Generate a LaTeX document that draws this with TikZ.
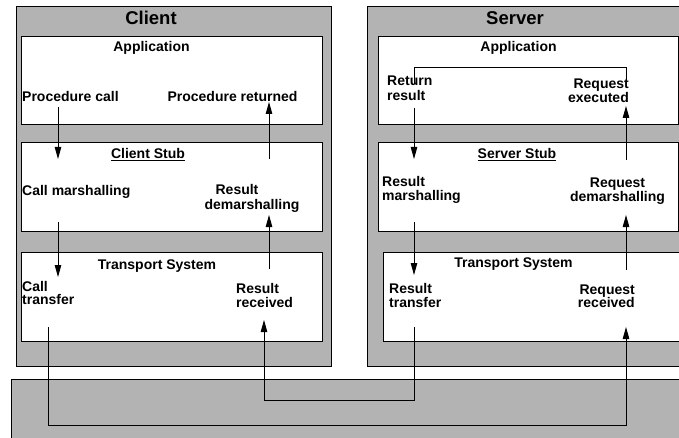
\documentclass[tikz,border=0pt]{standalone}
\usepackage{fontspec}
\setmainfont{Liberation Sans}
\usetikzlibrary{arrows.meta}
\definecolor{panel}{RGB}{179,179,179}
\begin{document}
\begin{tikzpicture}[x=1pt,y=-1pt,
  box/.style={draw=black,line width=1pt,fill=white},
  shell/.style={draw=black,line width=1pt,fill=panel},
  lbl/.style={font=\fontsize{14}{15}\selectfont\bfseries,inner sep=0pt},
  ttl/.style={font=\fontsize{18.5}{20}\selectfont\bfseries,inner sep=0pt},
  flow/.style={line width=0.9pt,-{Triangle[length=12pt,width=6.5pt]}},
  wire/.style={line width=0.9pt}]
\clip (0,0) rectangle (679,438);
\fill[white] (0,0) rectangle (679,438);

% ---------- client side ----------
\draw[shell] (16,7) rectangle (331,366);
\draw[box] (21,37) rectangle (322,125);
\draw[box] (21,143) rectangle (322,231);
\draw[box] (21,252) rectangle (322,341);

% ---------- server side ----------
\draw[shell] (367,7) rectangle (700,366);
\draw[box] (378,37) rectangle (678,125);
\draw[box] (378,143) rectangle (678,231);
\draw[box] (383,252) rectangle (700,341);

% ---------- network ----------
\draw[shell] (11,379) rectangle (700,460);

% ---------- titles ----------
\node[ttl,anchor=base] (ctitle) at (151,25) {Client};
\node[ttl,anchor=base] (stitle) at (515,25) {Server};

% ---------- client labels ----------
\node[lbl,anchor=base] (capp) at (151.5,52) {Application};
\node[lbl,anchor=base west] (pcall) at (22,102) {Procedure call};
\node[lbl,anchor=base] (pret) at (232.5,102) {Procedure returned};
\node[lbl,anchor=base] (cstub) at (148,159) {\underline{Client Stub}};
\node[lbl,anchor=base west] (cmar) at (22,196) {Call marshalling};
\node[lbl,anchor=base] (rdm1) at (237,195) {Result};
\node[lbl,anchor=base] (rdm2) at (252,210) {demarshalling};
\node[lbl,anchor=base] (ctr) at (157,269) {Transport System};
\node[lbl,anchor=base west] (ctf1) at (22,291) {Call};
\node[lbl,anchor=base west] (ctf2) at (22,304) {transfer};
\node[lbl,anchor=base west] (crr1) at (236,293) {Result};
\node[lbl,anchor=base west] (crr2) at (236,307) {received};

% ---------- server labels ----------
\node[lbl,anchor=base] (sapp) at (518.5,52) {Application};
\node[lbl,anchor=base west] (srr1) at (387,86) {Return};
\node[lbl,anchor=base west] (srr2) at (387,101) {result};
\node[lbl,anchor=base east] (sre1) at (629,89) {Request};
\node[lbl,anchor=base east] (sre2) at (629,103) {executed};
\node[lbl,anchor=base] (sstub) at (517,159) {\underline{Server Stub}};
\node[lbl,anchor=base west] (srm1) at (382,187) {Result};
\node[lbl,anchor=base west] (srm2) at (382,201) {marshalling};
\node[lbl,anchor=base] (sqd1) at (617.5,188) {Request};
\node[lbl,anchor=base] (sqd2) at (617.5,202) {demarshalling};
\node[lbl,anchor=base] (str) at (513.5,267) {Transport System};
\node[lbl,anchor=base west] (stf1) at (389,293) {Result};
\node[lbl,anchor=base west] (stf2) at (389,307) {transfer};
\node[lbl,anchor=base east] (sqr1) at (635,294) {Request};
\node[lbl,anchor=base east] (sqr2) at (635,307) {received};

% ---------- connector end points ----------
\coordinate (cDownA) at (58,107);  \coordinate (cDownB) at (58,159);
\coordinate (cDownC) at (58,222);  \coordinate (cDownD) at (58,277);
\coordinate (cUpA)   at (269,159); \coordinate (cUpB)   at (269,102);
\coordinate (cUpC)   at (269,269); \coordinate (cUpD)   at (269,215);
\coordinate (sDownA) at (414,108); \coordinate (sDownB) at (414,159);
\coordinate (sDownC) at (414,222); \coordinate (sDownD) at (414,275);
\coordinate (sUpA)   at (626,160); \coordinate (sUpB)   at (626,106);
\coordinate (sUpC)   at (626,270); \coordinate (sUpD)   at (626,215);
\coordinate (execTop) at (626,84); \coordinate (retTop) at (414,84);
\coordinate (loopRow) at (0,67);
\coordinate (callOut) at (48,327); \coordinate (reqIn) at (626,327);
\coordinate (resOut) at (414,327); \coordinate (resIn) at (264,320);
\coordinate (lowRow) at (0,425);   \coordinate (midRow) at (0,400);

% ---------- client flow ----------
\draw[flow] (cDownA) -- (cDownB);
\draw[flow] (cDownC) -- (cDownD);
\draw[flow] (cUpA) -- (cUpB);
\draw[flow] (cUpC) -- (cUpD);

% ---------- server flow ----------
\draw[flow] (sDownA) -- (sDownB);
\draw[flow] (sDownC) -- (sDownD);
\draw[flow] (sUpA) -- (sUpB);
\draw[flow] (sUpC) -- (sUpD);
\draw[wire] (execTop) |- (loopRow -| retTop) -- (retTop);

% ---------- across the network ----------
\draw[flow] (callOut) |- (lowRow -| reqIn) -- (reqIn);
\draw[flow] (resOut) |- (midRow -| resIn) -- (resIn);
\end{tikzpicture}
\end{document}
